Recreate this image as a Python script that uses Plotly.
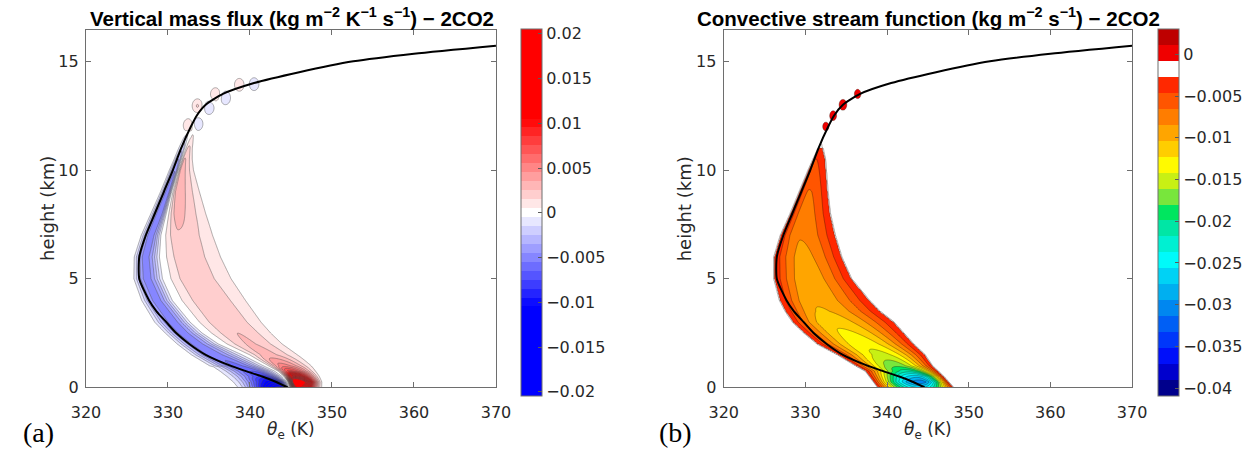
import numpy as np
import plotly.graph_objects as go

W, H = 1260, 461

# ---------------- black reference profile (theta_e, height) ----------------
line_z  = [0.0, 0.25, 0.5, 0.75, 1.0, 1.5, 2.0, 2.5, 3.0, 3.5, 4.0, 5.0, 6.0, 7.0, 8.0,
           9.0, 10.0, 11.0, 12.0, 12.5, 13.0, 13.5, 14.0, 14.5, 15.0, 15.35, 15.72]
line_th = [344.6, 343.2, 341.5, 339.5, 337.6, 334.6, 332.6, 331.0, 329.8, 328.6, 327.7, 326.5,
           326.5, 327.3, 328.4, 329.5, 330.6, 331.6, 332.8, 333.5, 334.6, 336.7, 340.5, 346.0,
           352.6, 360.0, 370.0]

# ---------------- panel (a): vertical mass flux, per-level profile reading ----------------
za      = [0.0, 0.25, 0.5, 0.75, 1.0, 1.5, 2.0, 2.5, 3.0, 4.0, 5.0, 6.0, 7.0, 8.0, 9.0, 10.0, 10.5, 11.0, 11.5, 12.0]
blue_left  = [337.6, 336.9, 336.0, 335.2, 334.4, 332.3, 330.6, 329.2, 327.9, 326.4, 325.5, 325.6, 326.5, 327.7, 328.9, 330.0, 330.6, 331.1, 331.7, 332.2]
blue_peak  = [343.6, 343.2, 341.9, 340.3, 338.4, 335.5, 333.5, 331.8, 330.6, 328.6, 327.4, 327.2, 327.9, 329.0, 330.0, 330.9, 331.3, 331.8, 332.2, 332.7]
zero_cross = [344.8, 344.6, 344.1, 343.3, 342.0, 339.5, 336.5, 334.5, 333.0, 330.8, 329.6, 329.2, 329.3, 329.9, 330.5, 331.3, 331.7, 332.1, 332.5, 333.0]
red_peak   = [345.8, 345.6, 345.3, 344.8, 344.0, 342.0, 340.0, 338.5, 337.0, 335.0, 333.0, 332.0, 331.3, 331.0, 331.1, 331.6, 332.0, 332.5, 333.0, 333.3]
red_right  = [349.0, 349.0, 348.8, 348.5, 348.2, 347.0, 345.3, 344.0, 343.0, 341.2, 339.6, 338.2, 337.0, 335.8, 334.7, 333.6, 333.3, 333.2, 333.3, 333.6]
blue_val   = [-0.015, -0.012, -0.0080, -0.0065, -0.0058, -0.0052, -0.005, -0.005, -0.005, -0.005, -0.005, -0.005, -0.0052, -0.0055, -0.0052, -0.0045, -0.0035, -0.0022, -0.001, 0.0]
red_val    = [0.020, 0.026, 0.015, 0.008, 0.005, 0.0029, 0.0026, 0.0025, 0.0024, 0.0023, 0.0022, 0.0022, 0.0024, 0.0028, 0.0030, 0.0029, 0.0026, 0.0018, 0.0006, 0.0]
# small cells near the tropopause
blobA_th = [332.5, 333.6, 335.8, 338.7, 333.65, 335.0, 337.0, 340.5]
blobA_z  = [12.05, 12.95, 13.47, 13.92, 12.12, 12.87, 13.32, 13.95]
blobA_v  = [0.0015, 0.0016, 0.0015, 0.0013, -0.0014, -0.0015, -0.0015, -0.0013]

# ---------------- panel (b): convective stream function, per-level reading ----------------
zb      = [0.0, 0.25, 0.5, 0.75, 1.0, 1.5, 2.0, 2.5, 3.0, 3.5, 4.0, 5.0, 6.0, 7.0, 8.0, 9.0, 10.0, 10.5, 11.0, 11.3]
psi_left  = [338.9, 338.4, 337.9, 337.4, 336.2, 334.0, 331.5, 329.9, 328.5, 327.6, 326.9, 326.2, 326.2, 327.0, 328.2, 329.3, 330.4, 331.0, 331.6, 331.9]
psi_min_th = [344.1, 344.1, 343.6, 342.6, 341.0, 339.3, 337.0, 335.0, 333.0, 331.9, 331.0, 330.2, 329.6, 329.3, 329.8, 330.4, 330.9, 331.2, 331.8, 332.0]
psi_right = [348.1, 347.5, 346.9, 346.2, 345.5, 344.6, 343.2, 342.0, 340.8, 339.1, 337.8, 335.6, 334.4, 333.6, 333.0, 332.7, 332.5, 332.4, 332.1, 332.1]
psi_min   = [-0.026, -0.031, -0.027, -0.021, -0.0175, -0.0149, -0.0136, -0.0127, -0.0118, -0.0106, -0.0101, -0.0097, -0.0091, -0.0083, -0.0076, -0.0067, -0.0054, -0.0047, -0.0029, 0.0]
blobB_th = [332.5, 333.4, 334.6, 336.4]
blobB_z  = [12.0, 12.5, 13.0, 13.5]
blobB_v  = [0.0022, 0.0026, 0.0032, 0.0024]

# ---------------- colour bars ----------------
cbA_lo, cbA_hi, cbA_step = -0.0205, 0.0205, 0.001
cbA_ticks = [0.02, 0.015, 0.01, 0.005, 0, -0.005, -0.01, -0.015, -0.02]
cbA_text  = ["0.02", "0.015", "0.01", "0.005", "0", "\u22120.005", "\u22120.01", "\u22120.015", "\u22120.02"]
cbB_lo, cbB_hi, cbB_n = -0.041, 0.003, 23
cbB_ticks = [0, -0.005, -0.01, -0.015, -0.02, -0.025, -0.03, -0.035, -0.04]
cbB_text  = ["0", "\u22120.005", "\u22120.01", "\u22120.015", "\u22120.02", "\u22120.025", "\u22120.03", "\u22120.035", "\u22120.04"]
# band colours of panel (b), top band to bottom band
cbB_colors = [(190, 0, 0), (240, 0, 0), (255, 255, 255), (255, 40, 0), (255, 85, 0), (255, 125, 0),
              (255, 165, 0), (255, 205, 0), (255, 250, 0), (200, 240, 20), (120, 230, 60), (0, 230, 95),
              (0, 230, 165), (0, 240, 210), (0, 250, 250), (0, 210, 245), (0, 175, 240), (0, 135, 240),
              (0, 95, 245), (0, 55, 250), (0, 15, 250), (0, 0, 205), (0, 0, 140)]

# ---------------- grid construction ----------------
TH = np.round(np.concatenate([np.arange(319.0, 352.0001, 0.1), np.arange(353.0, 372.0001, 1.0)]), 3)
ZG = np.round(np.arange(0.0, 16.8001, 0.05), 3)
TT, ZZ = np.meshgrid(TH, ZG)


def hump(th, a, p, b, amp, ql, qr):
    out = np.zeros_like(th)
    m = (th >= a) & (th <= p)
    t = (th[m] - a) / max(p - a, 1e-6)
    out[m] = amp * np.sin(np.pi / 2 * t) ** ql
    m = (th > p) & (th <= b)
    s = (th[m] - p) / max(b - p, 1e-6)
    out[m] = amp * np.cos(np.pi / 2 * s) ** qr
    return out


def interp_all(zs, arrs, z):
    return [np.interp(z, zs, a) for a in arrs]


MA = np.zeros((len(ZG), len(TH)))
for i, z in enumerate(ZG):
    bl, bp, z0, rp, rr, bv, rv = interp_all(za, [blue_left, blue_peak, zero_cross, red_peak, red_right, blue_val, red_val], z)
    ql = 2.4 if z < 1.0 else 1.8
    MA[i] = hump(TH, bl, bp, z0, bv, ql, 1.4) + hump(TH, z0, rp, rr, rv, 1.4, 1.8)
for bt, bz, bv in zip(blobA_th, blobA_z, blobA_v):
    MA += bv * np.exp(-((TT - bt) / 0.6) ** 2 - ((ZZ - bz) / 0.3) ** 2)

stepB = (cbB_hi - cbB_lo) / cbB_n
EDGE = abs(cbB_hi - 3 * stepB)   # magnitude of the outermost coloured level (-0.00274)
RAMP = 0.12

MB = np.zeros((len(ZG), len(TH)))
for i, z in enumerate(ZG):
    L, P, R, V = interp_all(zb, [psi_left, psi_min_th, psi_right, psi_min], z)
    A = -V
    if A <= 0:
        continue
    row = np.zeros_like(TH)
    if A > EDGE:
        base, amp = EDGE, A - EDGE
    else:
        base, amp = 0.0, A
    m = (TH >= L) & (TH <= P)
    row[m] = -(base + amp * np.sin(np.pi / 2 * (TH[m] - L) / max(P - L, 1e-6)))
    m = (TH > P) & (TH <= R)
    row[m] = -(base + amp * np.cos(np.pi / 2 * (TH[m] - P) / max(R - P, 1e-6)))
    if base > 0:
        m = (TH >= L - RAMP) & (TH < L)
        row[m] = -base * (TH[m] - (L - RAMP)) / RAMP
        m = (TH > R) & (TH <= R + RAMP)
        row[m] = -base * ((R + RAMP) - TH[m]) / RAMP
    MB[i] = row
for bt, bz, bv in zip(blobB_th, blobB_z, blobB_v):
    MB += bv * np.exp(-((TT - bt) / 0.45) ** 2 - ((ZZ - bz) / 0.24) ** 2)


def rgb(c):
    return "rgb(%d,%d,%d)" % tuple(int(round(v)) for v in c)


def colA(v):
    a = min(abs(v) / 0.0105, 1.0)
    g = 255 * (1 - a)
    if abs(v) < 1e-9:
        return (255, 255, 255)
    return (255, g, g) if v > 0 else (g, g, 255)


def stepped(colors):
    n = len(colors)
    cs = []
    for k, c in enumerate(colors):
        cs.append([k / n, c])
        cs.append([(k + 1) / n, c])
    return cs


# panel (a): 41 bands centred on multiples of 0.001
nA = int(round((cbA_hi - cbA_lo) / cbA_step))
centersA = [cbA_lo + (k + 0.5) * cbA_step for k in range(nA)]
colorsA = [rgb(colA(v)) for v in centersA]
csA_contour = [[k / (nA - 1), colorsA[k]] for k in range(nA)]
csA_bar = stepped(colorsA)

# panel (b): 23 bands
colorsB_bar = [rgb(c) for c in cbB_colors[::-1]]  # bottom -> top
plotB = list(cbB_colors)
plotB[0] = (240, 0, 0)        # positive cells show as plain red
plotB[1] = (255, 255, 255)    # no-data background stays white
colorsB_plot = [rgb(c) for c in plotB[::-1]]
csB_contour = [[k / (cbB_n - 1), colorsB_plot[k]] for k in range(cbB_n)]
csB_bar = stepped(colorsB_bar)

fig = go.Figure()

fig.add_trace(go.Contour(
    x=TH, y=ZG, z=MA, xaxis="x", yaxis="y",
    contours=dict(start=cbA_lo + cbA_step, end=cbA_hi - cbA_step, size=cbA_step, coloring="fill"),
    colorscale=csA_contour, showscale=False,
    line=dict(width=0.6, color="rgba(80,80,80,0.75)"), hoverinfo="skip"))

fig.add_trace(go.Contour(
    x=TH, y=ZG, z=MB, xaxis="x2", yaxis="y2",
    contours=dict(start=cbB_hi - 22 * stepB, end=cbB_hi - stepB, size=stepB, coloring="fill"),
    colorscale=csB_contour, showscale=False,
    line=dict(width=0.6, color="rgba(30,10,0,0.55)"), hoverinfo="skip"))

for ax in ["", "2"]:
    fig.add_trace(go.Scatter(x=line_th, y=line_z, mode="lines", xaxis="x" + ax, yaxis="y" + ax,
                             line=dict(color="black", width=2, shape="spline", smoothing=0.6),
                             hoverinfo="skip"))

tickfont = dict(family="DejaVu Sans", size=16, color="rgb(40,40,40)")
axcol = "rgb(110,110,110)"


def cbar(xpx, ticks, texts):
    return dict(x=xpx / W, xanchor="left", xref="paper", y=1 - 30 / H, yanchor="top", yref="paper",
                len=367, lenmode="pixels", thickness=21, thicknessmode="pixels",
                outlinewidth=1, outlinecolor=axcol, xpad=0, ypad=0,
                tickvals=ticks, ticktext=texts, ticks="inside", ticklen=4, tickcolor="rgb(90,90,90)",
                tickfont=tickfont)


fig.add_trace(go.Heatmap(z=[[cbA_lo, cbA_hi]], x=[400, 401], y=[1], xaxis="x", yaxis="y",
                         zmin=cbA_lo, zmax=cbA_hi, colorscale=csA_bar, hoverinfo="skip",
                         colorbar=cbar(518, cbA_ticks, cbA_text)))
fig.add_trace(go.Heatmap(z=[[cbB_lo, cbB_hi]], x=[400, 401], y=[1], xaxis="x2", yaxis="y2",
                         zmin=cbB_lo, zmax=cbB_hi, colorscale=csB_bar, hoverinfo="skip",
                         colorbar=cbar(1171, cbB_ticks, cbB_text)))

ydom = [1 - 396 / H, 1 - 30.7 / H]
common_x = dict(range=[320, 370], tickvals=[320, 330, 340, 350, 360, 370], ticks="inside", ticklen=5,
                tickcolor=axcol, mirror="allticks", showline=True, linecolor=axcol, linewidth=1.2,
                showgrid=False, zeroline=False, tickfont=tickfont, ticklabelstandoff=10)
common_y = dict(range=[0, 16.44], tickvals=[0, 5, 10, 15], ticks="inside", ticklen=5,
                tickcolor=axcol, mirror="allticks", showline=True, linecolor=axcol, linewidth=1.2,
                showgrid=False, zeroline=False, tickfont=tickfont, domain=ydom, ticklabelstandoff=3)

fig.update_layout(
    width=W, height=H, margin=dict(l=0, r=0, t=0, b=0),
    paper_bgcolor="white", plot_bgcolor="white", showlegend=False,
    xaxis=dict(domain=[72.7 / W, 492.7 / W], anchor="y", **common_x),
    yaxis=dict(anchor="x", **common_y),
    xaxis2=dict(domain=[726 / W, 1144.3 / W], anchor="y2", **common_x),
    yaxis2=dict(anchor="x2", **common_y),
)

ann = []
titfont = dict(family="Liberation Sans", size=20.5, color="black")
ann.append(dict(text="<b>Vertical mass flux (kg m<sup>\u22122</sup> K<sup>\u22121</sup> s<sup>\u22121</sup>) \u2212 2CO2</b>",
                x=283.5 / W, y=1 - 17 / H, xref="paper", yref="paper", xanchor="center", yanchor="middle",
                showarrow=False, font=titfont))
ann.append(dict(text="<b>Convective stream function (kg m<sup>\u22122</sup> s<sup>\u22121</sup>) \u2212 2CO2</b>",
                x=936 / W, y=1 - 17 / H, xref="paper", yref="paper", xanchor="center", yanchor="middle",
                showarrow=False, font=titfont))
labfont = dict(family="DejaVu Sans", size=18, color="rgb(40,40,40)")
for xc in [33, 686]:
    ann.append(dict(text="height (km)", textangle=-90, x=xc / W, y=1 - 213.3 / H, xref="paper", yref="paper",
                    xanchor="center", yanchor="middle", showarrow=False, font=labfont))
for xc in [282.7, 935]:
    ann.append(dict(text="<i>\u03b8</i><sub>e</sub> (K)", x=xc / W, y=1 - 440 / H, xref="paper", yref="paper",
                    xanchor="center", yanchor="middle", showarrow=False,
                    font=dict(family="DejaVu Sans", size=17, color="rgb(40,40,40)")))
ann.append(dict(text="(a)", x=6 / W, y=1 - 442 / H, xref="paper", yref="paper", xanchor="left", yanchor="middle",
                showarrow=False, font=dict(family="Liberation Serif", size=28, color="black")))
ann.append(dict(text="(b)", x=658 / W, y=1 - 442 / H, xref="paper", yref="paper", xanchor="left", yanchor="middle",
                showarrow=False, font=dict(family="Liberation Serif", size=28, color="black")))
fig.update_layout(annotations=ann)

fig.write_html("out.html")
